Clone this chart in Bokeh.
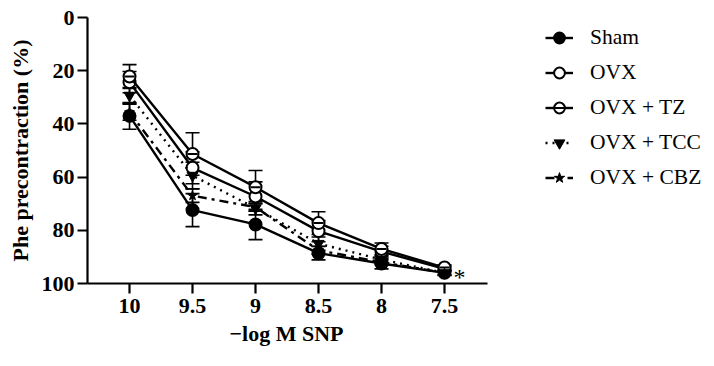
from bokeh.plotting import figure
from bokeh.models import (Range1d, ColumnDataSource, Whisker, TeeHead, Legend, LegendItem,
                          FixedTicker, Label, Title)
from bokeh.embed import file_html
from bokeh.resources import INLINE

doses = ["10", "9.5", "9", "8.5", "8", "7.5"]
sham = [37.0, 72.4, 77.8, 88.6, 92.5, 96.0]
sham_err = [5.0, 6.2, 5.7, 2.5, 2.0, 1.0]
ovx = [24.3, 56.5, 67.3, 80.3, 88.0, 94.5]
ovx_err = [4.0, 6.0, 5.5, 4.0, 2.0, 1.0]
ovx_tz = [22.2, 51.3, 63.8, 77.3, 87.0, 94.0]
ovx_tz_err = [4.5, 8.0, 6.3, 4.3, 2.2, 1.0]
ovx_tcc = [29.3, 59.4, 71.7, 85.0, 91.0, 96.0]
ovx_tcc_err = [3.0, 5.0, 2.5, 2.5, 1.5, 0.8]
ovx_cbz = [35.6, 67.0, 71.3, 87.5, 92.0, 96.0]
ovx_cbz_err = [3.0, 2.5, 1.5, 1.5, 1.0, 0.8]

FONT = "Liberation Serif"
xs = list(range(len(doses)))

X0, X1 = -0.667, 5.68
FRAME_W = 627
PX_PER_UNIT = 63.0
p = figure(frame_width=FRAME_W, frame_height=266, output_backend="svg", toolbar_location=None,
           x_range=Range1d(X0, X0 + FRAME_W / PX_PER_UNIT), y_range=Range1d(100, 0),
           min_border_left=87, min_border_right=0, min_border_top=17, min_border_bottom=0)
p.outline_line_color = None
p.grid.visible = False
p.background_fill_color = "white"
p.border_fill_color = "white"

for ax in (p.xaxis[0], p.yaxis[0]):
    ax.axis_line_width = 2.2
    ax.major_tick_line_width = 2.2
    ax.major_tick_out = 10
    ax.major_tick_in = 0
    ax.minor_tick_line_color = None
    ax.major_label_text_font = FONT
    ax.major_label_text_font_style = "bold"
    ax.major_label_text_font_size = "22px"
    ax.major_label_text_color = "black"
    ax.axis_label_text_font = FONT
    ax.axis_label_text_font_style = "bold"
    ax.axis_label_text_font_size = "22px"
    ax.axis_label_text_color = "black"

p.xaxis.bounds = (X0, X1)
p.xaxis.ticker = FixedTicker(ticks=xs)
p.xaxis.major_label_overrides = {i: d for i, d in enumerate(doses)}
p.xaxis.major_label_standoff = 5
p.yaxis.ticker = FixedTicker(ticks=[0, 20, 40, 60, 80, 100])
p.yaxis.axis_label = "Phe precontraction (%)"
p.yaxis.major_label_standoff = 3
p.yaxis.axis_label_standoff = 6

xtitle = Title(text="\u2212log M SNP", align="left", offset=142, standoff=7,
               text_font=FONT, text_font_style="bold", text_font_size="22px",
               text_color="black")
p.add_layout(xtitle, "below")

series = [
    ("Sham", sham, sham_err, "solid"),
    ("OVX", ovx, ovx_err, "solid"),
    ("OVX + TZ", ovx_tz, ovx_tz_err, "solid"),
    ("OVX + TCC", ovx_tcc, ovx_tcc_err, "2 5"),
    ("OVX + CBZ", ovx_cbz, ovx_cbz_err, "9 5 3 5"),
]

items = []
for name, vals, errs, dash in series:
    src = ColumnDataSource(dict(x=xs, y=vals,
                                lo=[v - e for v, e in zip(vals, errs)],
                                hi=[v + e for v, e in zip(vals, errs)]))
    w = Whisker(source=src, base="x", upper="hi", lower="lo", line_width=1.6, line_color="black",
                upper_head=TeeHead(size=14, line_width=1.6, line_color="black"),
                lower_head=TeeHead(size=14, line_width=1.6, line_color="black"))
    p.add_layout(w)
    rends = [p.line("x", "y", source=src, line_width=2.4, line_color="black", line_dash=dash)]
    if name == "Sham":
        rends.append(p.scatter("x", "y", source=src, marker="circle", size=12,
                               fill_color="black", line_color="black", line_width=2))
    elif name == "OVX":
        rends.append(p.scatter("x", "y", source=src, marker="circle", size=12,
                               fill_color="white", line_color="black", line_width=2))
    elif name == "OVX + TZ":
        rends.append(p.scatter("x", "y", source=src, marker="circle", size=12,
                               fill_color="white", line_color="black", line_width=2))
        rends.append(p.scatter("x", "y", source=src, marker="dash", size=10,
                               line_color="black", line_width=2))
    elif name == "OVX + TCC":
        rends.append(p.scatter("x", "y", source=src, marker="inverted_triangle", size=11,
                               fill_color="black", line_color="black", line_width=1))
    else:
        rends.append(p.scatter("x", "y", source=src, marker="star", size=10,
                               fill_color="black", line_color="black", line_width=1))
    items.append(LegendItem(label=name, renderers=rends))

legend = Legend(items=items, location=(458, 92), orientation="vertical")
legend.label_text_font = FONT
legend.label_text_font_size = "21.5px"
legend.label_text_color = "black"
legend.border_line_color = None
legend.background_fill_alpha = 0
legend.glyph_width = 28
legend.glyph_height = 27
legend.label_standoff = 17
legend.spacing = 8
legend.padding = 0
legend.margin = 0
legend.label_height = 27
p.add_layout(legend, "center")

p.add_layout(Label(x=5, y=96, text="*", x_offset=9, y_offset=-4, text_font=FONT,
                   text_font_size="24px", text_color="black", text_baseline="middle"))

open("out.html", "w").write(file_html(p, INLINE))
